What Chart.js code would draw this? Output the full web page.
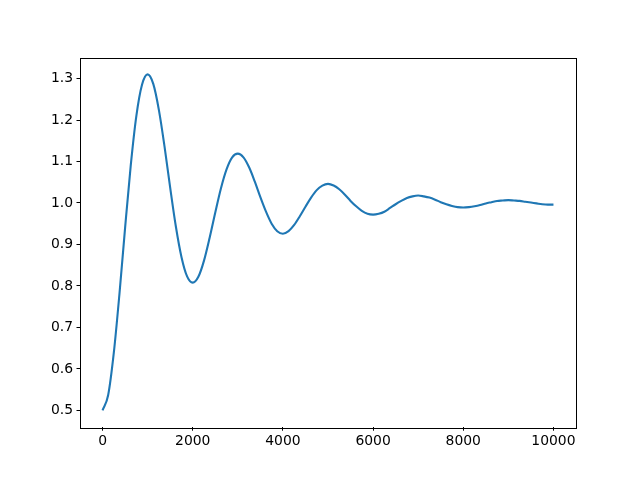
<!DOCTYPE html>
<html>
<head>
<meta charset="utf-8">
<script src="https://cdn.jsdelivr.net/npm/chart.js@4"></script>
<style>
  html, body { margin: 0; padding: 0; background: #fff; }
</style>
</head>
<body>
<canvas id="chart" width="640" height="480"></canvas>
<script>
// time steps (every 125)
const steps = [];
for (let t = 0; t <= 10000; t += 125) steps.push(t);

// response values, one per step
const response = [
  0.500, 0.537, 0.639, 0.781, 0.940, 1.090, 1.210, 1.285,
  1.310, 1.287, 1.224, 1.136, 1.037, 0.944, 0.870, 0.823,
  0.808, 0.822, 0.861, 0.916, 0.977, 1.035, 1.081, 1.110,
  1.119, 1.110, 1.086, 1.052, 1.014, 0.979, 0.950, 0.932,
  0.926, 0.932, 0.947, 0.968, 0.991, 1.013, 1.031, 1.042,
  1.046, 1.042, 1.033, 1.020, 1.005, 0.992, 0.981, 0.974,
  0.972, 0.974, 0.979, 0.988, 0.997, 1.005, 1.012, 1.016,
  1.018, 1.016, 1.013, 1.008, 1.002, 0.997, 0.993, 0.990,
  0.989, 0.990, 0.992, 0.995, 0.999, 1.002, 1.005, 1.006,
  1.007, 1.006, 1.005, 1.003, 1.001, 0.999, 0.997, 0.996,
  0.996
];
const xTicks = [0, 2000, 4000, 6000, 8000, 10000];
const yTicks = [0.5, 0.6, 0.7, 0.8, 0.9, 1.0, 1.1, 1.2, 1.3];

// draw all four spines
const frame = {
  id: 'frame',
  afterDraw(chart) {
    const { ctx, chartArea: a } = chart;
    ctx.save();
    ctx.strokeStyle = '#000';
    ctx.lineWidth = 1;
    ctx.strokeRect(Math.round(a.left) + 0.5, Math.round(a.top) + 0.5,
      Math.round(a.right - a.left), Math.round(a.bottom - a.top));
    ctx.restore();
  }
};

const font = { family: 'DejaVu Sans', size: 13.9 };

new Chart(document.getElementById('chart'), {
  type: 'line',
  data: {
    datasets: [{
      data: steps.map((t, i) => ({ x: t, y: response[i] })),
      borderColor: '#1f77b4',
      borderWidth: 2.1,
      pointRadius: 0,
      cubicInterpolationMode: 'monotone',
      fill: false
    }]
  },
  options: {
    responsive: false,
    devicePixelRatio: 1,
    animation: false,
    layout: { padding: { top: 57.6, right: 64, left: 0, bottom: 0 } },
    plugins: { legend: { display: false }, tooltip: { enabled: false } },
    scales: {
      x: {
        type: 'linear',
        min: -500,
        max: 10500,
        afterBuildTicks: s => { s.ticks = xTicks.map(v => ({ value: v })); },
        afterFit: s => { s.height = 52.8; },
        grid: { drawOnChartArea: false, tickLength: 3.5, color: '#000' },
        border: { display: false },
        ticks: { color: '#000', font, padding: 2, maxRotation: 0, callback: v => String(v) }
      },
      y: {
        min: 0.4595,
        max: 1.3505,
        afterBuildTicks: s => { s.ticks = yTicks.map(v => ({ value: v })); },
        afterFit: s => { s.width = 80; },
        grid: { drawOnChartArea: false, tickLength: 3.5, color: '#000' },
        border: { display: false },
        ticks: { color: '#000', font, padding: 3.5, callback: v => v.toFixed(1) }
      }
    }
  },
  plugins: [frame]
});
</script>
</body>
</html>
